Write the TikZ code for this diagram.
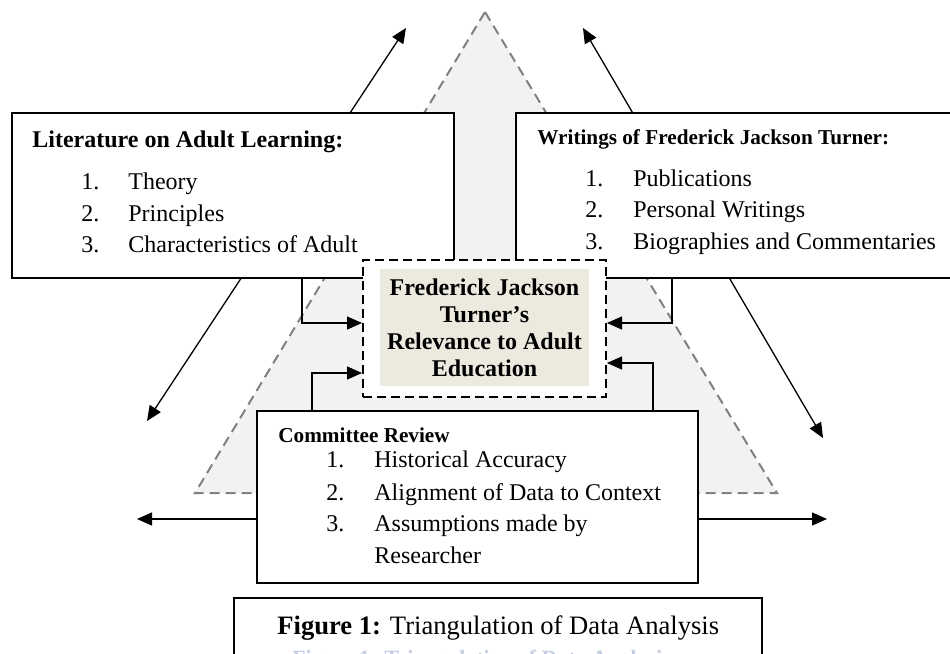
\documentclass[tikz,border=0pt]{standalone}
\usepackage{fontspec}
\setmainfont{Liberation Serif}
\usetikzlibrary{arrows.meta,calc}

\definecolor{trifill}{RGB}{242,242,242}
\definecolor{triline}{RGB}{128,128,128}
\definecolor{corefill}{RGB}{236,233,223}
\definecolor{ghost}{RGB}{196,206,224}

\tikzset{
	box/.style={draw, fill=white, line width=0.75pt, inner sep=0pt},
	arr/.style={line width=0.65pt, -{Triangle[length=7.5pt,width=6.5pt]}},
	twoarr/.style={line width=0.65pt, {Triangle[length=7.5pt,width=6.5pt]}-{Triangle[length=7.5pt,width=6.5pt]}},
	txt/.style={anchor=base west, inner sep=0pt, font=\fontsize{12}{14}\selectfont},
	head/.style={anchor=base west, inner sep=0pt, font=\fontsize{10.6}{12}\selectfont\bfseries},
}

\begin{document}
\begin{tikzpicture}[x=0.5pt, y=0.5pt]
		\useasboundingbox (0,0) rectangle (950,-654);
		\clip (0,0) rectangle (950,-654);

		\draw[triline, fill=trifill, line width=1pt, dash pattern=on 5pt off 3pt] (485,-12) -- (777,-493) -- (195,-493) -- cycle;

		\coordinate (tl) at (406,-28);
		\coordinate (bl) at (147,-421);
		\coordinate (tr) at (583,-28);
		\coordinate (br) at (823,-438);
		\coordinate (hl) at (137,-519);
		\coordinate (hr) at (827,-519);
		\draw[twoarr] (bl) -- (tl);
		\draw[twoarr] (br) -- (tr);
		\draw[twoarr] (hl) -- (hr);

		\node[box, minimum width=221pt, minimum height=82.5pt] (lit) at (233,-195.5) {};
		\node[txt, font=\fontsize{12}{14}\selectfont\bfseries] (littitle) at (32,-147) {Literature on Adult Learning:};
		\node[txt] (lit1n) at (81,-189) {1.};
		\node[txt] (lit1) at (128,-189) {Theory};
		\node[txt] (lit2n) at (81,-221) {2.};
		\node[txt] (lit2) at (128,-221) {Principles};
		\node[txt] (lit3n) at (81,-252) {3.};
		\node[txt] (lit3) at (128,-252) {Characteristics of Adult};

		\node[box, minimum width=222pt, minimum height=82.5pt] (fjt) at (738,-195.5) {};
		\node[head] (fjttitle) at (537,-144) {Writings of Frederick Jackson Turner:};
		\node[txt] (fjt1n) at (585,-186) {1.};
		\node[txt] (fjt1) at (633,-186) {Publications};
		\node[txt] (fjt2n) at (585,-217) {2.};
		\node[txt] (fjt2) at (633,-217) {Personal Writings};
		\node[txt] (fjt3n) at (585,-249) {3.};
		\node[txt] (fjt3) at (633,-249) {Biographies and Commentaries};

		\node[box, minimum width=220.5pt, minimum height=86pt] (comm) at (477.5,-497) {};
		\node[head] (commtitle) at (278,-442) {Committee Review};
		\node[txt] (comm1n) at (326,-467) {1.};
		\node[txt] (comm1) at (374,-467) {Historical Accuracy};
		\node[txt] (comm2n) at (326,-500) {2.};
		\node[txt] (comm2) at (374,-500) {Alignment of Data to Context};
		\node[txt] (comm3n) at (326,-531) {3.};
		\node[txt] (comm3) at (374,-531) {Assumptions made by};
		\node[txt] (comm4) at (374,-563) {Researcher};

		\node[box, minimum width=264pt, minimum height=51pt] (cap) at (498,-649) {};
		\node[txt, font=\fontsize{13.3}{15}\selectfont] (captext) at (277,-634) {\textbf{Figure 1:} Triangulation of Data Analysis};
		\node[txt, font=\fontsize{10.9}{13}\selectfont\bfseries, text=ghost] (capghost) at (292,-665) {Figure 1: Triangulation of Data Analysis};

		\node[draw, fill=white, line width=1pt, dash pattern=on 4.5pt off 2.5pt, minimum width=121.5pt, minimum height=68.5pt, inner sep=0pt] (core) at (484.5,-328.5) {};
		\node[fill=corefill, minimum width=104.5pt, minimum height=58.5pt, inner sep=0pt, align=center, font=\fontsize{12}{13.5}\selectfont\bfseries] (coretxt) at (484.5,-327.5) {Frederick Jackson\\Turner's\\Relevance to Adult\\Education};

		\draw[arr] ($(lit.south)+(69,0)$) |- ($(core.west)+(0,5.5)$);
		\draw[arr] ($(fjt.south)+(-66,0)$) |- ($(core.east)+(0,5.5)$);
		\draw[arr] ($(comm.north)+(-165.5,0)$) |- ($(core.west)+(0,-44.5)$);
		\draw[arr] ($(comm.north)+(175.5,0)$) |- ($(core.east)+(0,-34.5)$);
	\end{tikzpicture}
\end{document}
